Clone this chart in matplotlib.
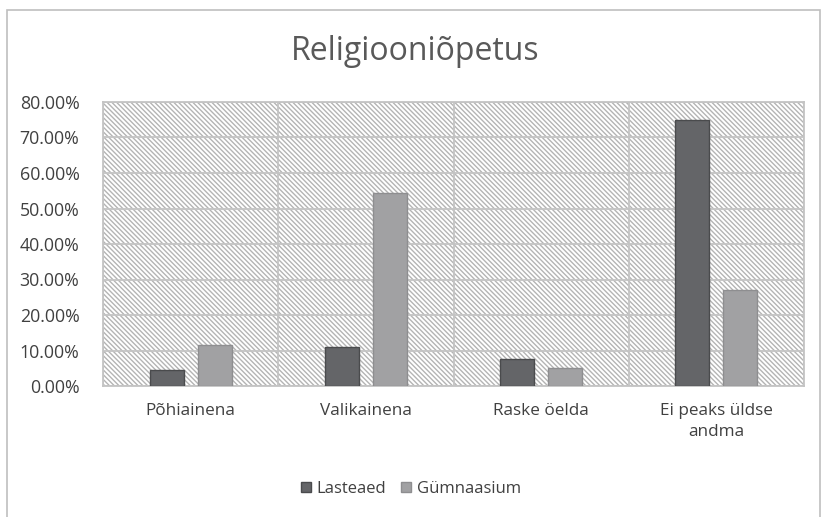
import matplotlib
matplotlib.use("Agg")
import matplotlib.pyplot as plt
import numpy as np
from matplotlib.patches import Rectangle
from matplotlib.ticker import FuncFormatter

categories = ["Põhiainena", "Valikainena", "Raske öelda", "Ei peaks üldse\nandma"]
series_names = ["Lasteaed", "Gümnaasium"]
lasteaed = [4.6, 11.1, 7.5, 74.9]
gymnaasium = [11.5, 54.4, 5.0, 27.0]
yticks = [0, 10, 20, 30, 40, 50, 60, 70, 80]

plt.rcParams['font.family'] = ['Open Sans', 'DejaVu Sans']
plt.rcParams['hatch.linewidth'] = 1.0

fig = plt.figure(figsize=(8.22, 5.17), dpi=100)
ax = fig.add_axes([103/822, 1-386/517, (804-103)/822, (386-102)/517])

x = np.arange(len(categories))
w = 0.195
off = 0.137
ax.bar(x - off, lasteaed, w, color="#646568", edgecolor="#4a4b4d", linewidth=1.0, zorder=3, label=series_names[0])
ax.bar(x + off, gymnaasium, w, color="#a1a1a3", edgecolor="#8e8e90", linewidth=1.0, zorder=3, label=series_names[1])

ax.set_xlim(-0.5, len(categories) - 0.5)
ax.set_ylim(0, 80)

# hatched background
bg = Rectangle((0, 0), 1, 1, transform=ax.transAxes, facecolor="white",
               edgecolor="#b4b4b4", hatch="\\" * 7, linewidth=0, zorder=0)
ax.add_patch(bg)
ax.set_facecolor("white")

for yv in yticks:
    ax.axhline(yv, color="#c4c4c4", linewidth=1.3, zorder=1)
for xv in np.arange(-0.5, len(categories), 1.0):
    ax.axvline(xv, color="#c4c4c4", linewidth=1.3, zorder=1)

for s in ax.spines.values():
    s.set_color("#c4c4c4")
    s.set_linewidth(1.3)

ax.set_yticks(yticks)
ax.yaxis.set_major_formatter(FuncFormatter(lambda v, p: f"{v:.2f}%"))
ax.set_xticks(x)
ax.set_xticklabels(categories, fontsize=12.3, color="#404040", linespacing=1.45)
ax.tick_params(axis='y', length=0, pad=17, labelsize=12.8, labelcolor="#404040")
ax.tick_params(axis='x', length=0, pad=12)

fig.text(0.505, 0.9, "Religiooniõpetus", ha="center", va="center", fontsize=23, color="#595959")

leg = fig.legend(loc="center", bbox_to_anchor=(0.5, 1-489/517), ncol=2, frameon=False,
                 fontsize=12, handlelength=0.6, handleheight=0.6, handletextpad=0.35,
                 columnspacing=0.9)
for t in leg.get_texts():
    t.set_color("#404040")

border = Rectangle((7/822, -0.05), (820-7)/822, 1.05 - 10/517, transform=fig.transFigure,
                   fill=False, edgecolor="#bfbfbf", linewidth=1.2)
fig.add_artist(border)

fig.savefig("out.png", dpi=100, facecolor="white")
